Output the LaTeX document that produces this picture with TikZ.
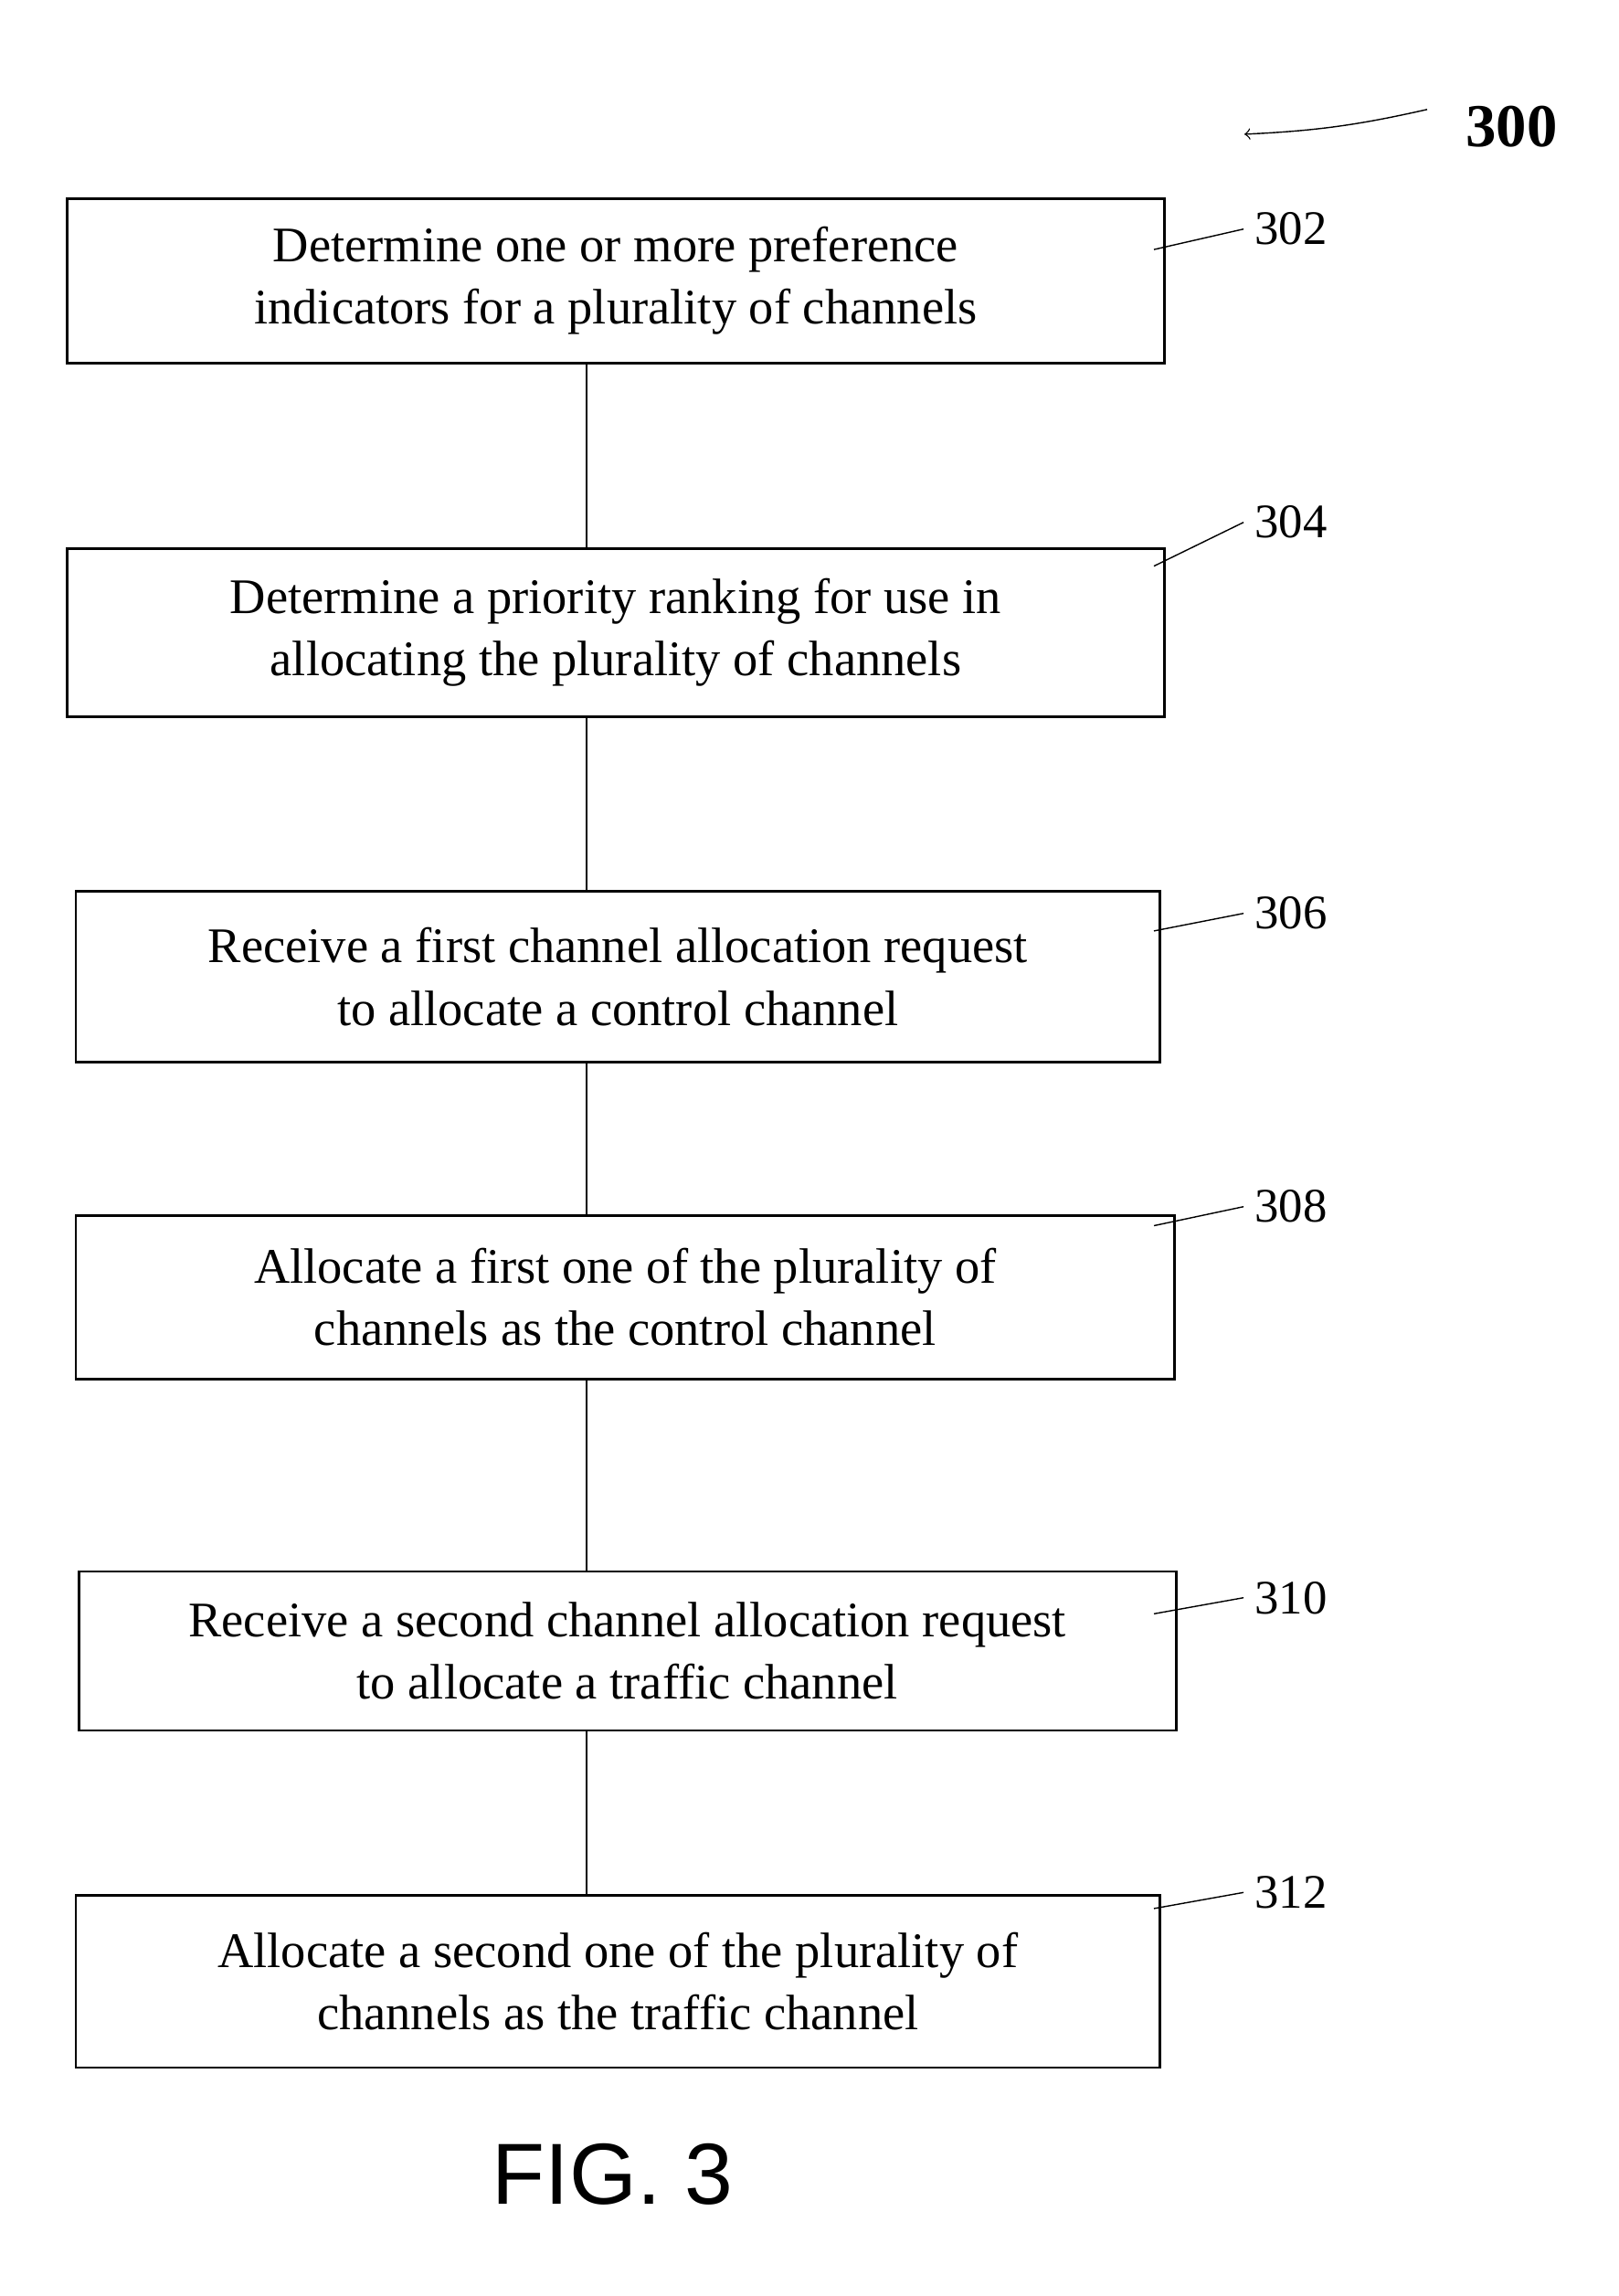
\documentclass[tikz,border=0pt]{standalone}
\usepackage{fontspec}
\setmainfont{Liberation Serif}
\setsansfont{Liberation Sans}
\usetikzlibrary{positioning}

\begin{document}
\begin{tikzpicture}[
    box/.style={draw, thick, align=center, inner sep=0pt, font=\fontsize{15.5}{19.5}\selectfont},
    ref/.style={font=\fontsize{15}{18}\selectfont},
    link/.style={draw, thin}]
    \useasboundingbox (0,0) rectangle (17.71,-25.13);

    \node[box, minimum width=12.01cm, minimum height=1.805cm] (s302) at (6.739,-3.074) {Determine one or more preference\\indicators for a plurality of channels};
    \node[box, minimum width=12.01cm, minimum height=1.837cm] (s304) at (6.739,-6.923) {Determine a priority ranking for use in\\allocating the plurality of channels};
    \node[box, minimum width=11.866cm, minimum height=1.868cm] (s306) at (6.763,-10.692) {Receive a first channel allocation request\\to allocate a control channel};
    \node[box, minimum width=12.025cm, minimum height=1.789cm] (s308) at (6.843,-14.197) {Allocate a first one of the plurality of\\channels as the control channel};
    \node[box, minimum width=12.01cm, minimum height=1.741cm] (s310) at (6.867,-18.070) {Receive a second channel allocation request\\to allocate a traffic channel};
    \node[box, minimum width=11.866cm, minimum height=1.884cm] (s312) at (6.763,-21.687) {Allocate a second one of the plurality of\\channels as the traffic channel};

    % connectors
    \foreach \a/\b in {s302/s304, s304/s306, s306/s308, s308/s310, s310/s312}
        \draw[link] (\a.south -| 6.42,0) -- (\b.north -| 6.42,0);

    % reference numerals
    \foreach \n/\ly/\sy in {302/-2.507/-2.731, 304/-5.717/-6.196, 306/-9.997/-10.189,
                            308/-13.207/-13.415, 310/-17.487/-17.663, 312/-20.713/-20.889} {
        \node[ref] (l\n) at (14.13,\ly) {\n};
        \coordinate (c\n) at (12.63,\sy);
        \draw[link] (c\n) -- (l\n.west);
    }

    \node[font=\fontsize{19}{22}\selectfont\bfseries] (l300) at (16.545,-1.389) {300};
    \coordinate (c300) at (15.62,-1.198);
    \draw[link, ->] (c300) to[bend left=5] (13.62,-1.469);

    \node[font=\sffamily\fontsize{27}{32}\selectfont] (fig) at (6.707,-23.795) {FIG. 3};
\end{tikzpicture}
\end{document}
